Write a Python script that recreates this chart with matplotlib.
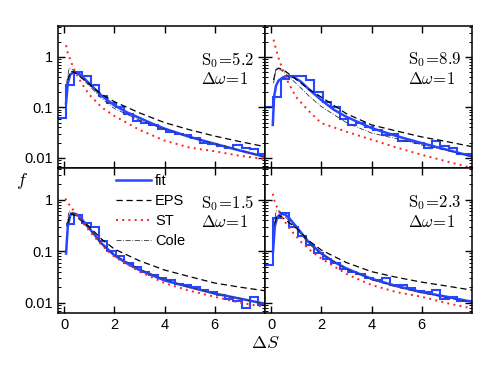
import numpy as np
import matplotlib
matplotlib.use("Agg")
import matplotlib.pyplot as plt
from matplotlib.ticker import LogLocator, NullFormatter, FixedLocator

plt.rcParams['font.family'] = ['Liberation Sans', 'DejaVu Sans']
plt.rcParams['mathtext.fontset'] = 'cm'

# ---------------- data ----------------
panel_S0 = ["5.2", "8.9", "1.5", "2.3"]
panel_dw = ["1", "1", "1", "1"]

bin_edges = [-0.24, 0.07, 0.40, 0.73, 1.07, 1.40, 1.73, 2.07, 2.40, 2.73, 3.07,
             3.40, 3.73, 4.07, 4.40, 4.73, 5.07, 5.40, 5.73, 6.07, 6.40, 6.73,
             7.07, 7.40, 7.73, 8.07]

hist_TL = [0.062, 0.28, 0.50, 0.42, 0.28, 0.17, 0.12, 0.10, 0.075, 0.055, 0.050,
           0.045, 0.038, 0.033, 0.030, 0.028, 0.025, 0.020, 0.019, 0.017, 0.016,
           0.018, 0.016, 0.015, 0.012]
hist_TR = [0.10, 0.16, 0.36, 0.42, 0.42, 0.35, 0.20, 0.13, 0.10, 0.060, 0.045,
           0.050, 0.040, 0.035, 0.028, 0.030, 0.022, 0.022, 0.020, 0.016, 0.022,
           0.017, 0.016, 0.012, 0.012]
hist_BL = [np.nan, 0.33, 0.50, 0.35, 0.30, 0.16, 0.10, 0.080, 0.060, 0.050, 0.040,
           0.035, 0.030, 0.027, 0.023, 0.022, 0.020, 0.018, 0.016, 0.014, 0.012,
           0.011, 0.008, 0.013, 0.009]
hist_BR = [0.053, 0.44, 0.54, 0.30, 0.20, 0.13, 0.090, 0.070, 0.060, 0.045, 0.040,
           0.036, 0.030, 0.028, 0.030, 0.022, 0.022, 0.019, 0.017, 0.016, 0.018,
           0.012, 0.013, 0.011, 0.011]

fit_x_TL = [0.08, 0.15, 0.25, 0.4, 0.55, 0.7, 1.0, 1.5, 2, 2.5, 3, 3.5, 4, 5, 6, 7, 8]
fit_TL = [0.12, 0.30, 0.45, 0.50, 0.48, 0.42, 0.30, 0.17, 0.11, 0.08, 0.062, 0.048,
          0.038, 0.026, 0.019, 0.014, 0.0105]
eps_x_TL = [0.15, 0.25, 0.4, 0.6, 1, 1.5, 2, 3, 4, 5, 6, 7, 8]
eps_TL = [0.35, 0.52, 0.5, 0.42, 0.29, 0.18, 0.13, 0.078, 0.05, 0.036, 0.027, 0.021, 0.0167]
st_x_TL = [0.08, 0.15, 0.3, 0.5, 0.7, 1.0, 1.5, 2, 3, 4, 5, 6, 7, 8]
st_TL = [1.7, 1.2, 0.75, 0.45, 0.3, 0.18, 0.1, 0.068, 0.036, 0.022, 0.016, 0.0135, 0.011, 0.0095]
cole_x_TL = [0.1, 0.2, 0.3, 0.5, 1, 1.5, 2, 3, 4, 5, 6, 7, 8]
cole_TL = [0.3, 0.6, 0.58, 0.48, 0.27, 0.15, 0.095, 0.056, 0.037, 0.026, 0.019, 0.014, 0.0105]

fit_x_TR = [0.07, 0.12, 0.2, 0.3, 0.5, 0.7, 0.9, 1.2, 1.5, 2, 2.5, 3, 4, 5, 6, 7, 8]
fit_TR = [0.045, 0.16, 0.27, 0.34, 0.40, 0.42, 0.40, 0.32, 0.23, 0.14, 0.09, 0.065,
          0.039, 0.027, 0.0196, 0.0145, 0.0107]
eps_x_TR = [0.1, 0.2, 0.3, 0.5, 1, 1.5, 2, 3, 4, 5, 6, 7, 8]
eps_TR = [0.35, 0.55, 0.6, 0.55, 0.36, 0.23, 0.16, 0.075, 0.045, 0.034, 0.026, 0.021, 0.0167]
st_x_TR = [0.1, 0.2, 0.3, 0.5, 0.7, 1.0, 1.5, 2, 3, 4, 5, 6, 7, 8]
st_TR = [2.2, 1.4, 0.95, 0.5, 0.3, 0.16, 0.085, 0.049, 0.033, 0.023, 0.016, 0.0115, 0.0085, 0.0063]
cole_x_TR = [0.1, 0.2, 0.3, 0.5, 1, 1.5, 2, 3, 4, 5, 6, 7, 8]
cole_TR = [0.3, 0.6, 0.6, 0.5, 0.3, 0.17, 0.104, 0.05, 0.031, 0.024, 0.018, 0.014, 0.0105]

fit_x_BL = [0.08, 0.15, 0.25, 0.4, 0.55, 0.7, 1, 1.5, 2, 2.5, 3, 4, 5, 6, 7, 8]
fit_BL = [0.09, 0.30, 0.50, 0.54, 0.50, 0.42, 0.28, 0.14, 0.083, 0.058, 0.043, 0.027,
          0.020, 0.015, 0.012, 0.0095]
eps_x_BL = [0.15, 0.25, 0.4, 0.6, 1, 1.5, 2, 3, 4, 5, 6, 7, 8]
eps_BL = [0.35, 0.55, 0.5, 0.42, 0.3, 0.17, 0.11, 0.065, 0.043, 0.032, 0.024, 0.020, 0.017]
st_x_BL = [0.05, 0.2, 0.4, 0.7, 1.0, 1.5, 2, 3, 4, 5, 6, 7, 8]
st_BL = [1.05, 0.8, 0.6, 0.38, 0.25, 0.13, 0.078, 0.04, 0.024, 0.017, 0.013, 0.010, 0.0082]
cole_x_BL = [0.1, 0.2, 0.3, 0.5, 1, 1.5, 2, 3, 4, 5, 6, 7, 8]
cole_BL = [0.3, 0.6, 0.58, 0.48, 0.27, 0.14, 0.085, 0.045, 0.028, 0.020, 0.015, 0.012, 0.0095]

fit_x_BR = [0.08, 0.15, 0.25, 0.4, 0.55, 0.7, 1, 1.5, 2, 2.5, 3, 4, 5, 6, 7, 8]
fit_BR = [0.10, 0.30, 0.46, 0.53, 0.52, 0.45, 0.30, 0.15, 0.09, 0.062, 0.046, 0.029,
          0.021, 0.016, 0.013, 0.0104]
eps_x_BR = [0.15, 0.25, 0.35, 0.5, 1, 1.5, 2, 3, 4, 5, 6, 7, 8]
eps_BR = [0.35, 0.5, 0.48, 0.43, 0.28, 0.16, 0.105, 0.06, 0.040, 0.031, 0.025, 0.021, 0.0175]
st_x_BR = [0.07, 0.15, 0.3, 0.5, 0.8, 1.2, 1.6, 2, 3, 4, 5, 6, 7, 8]
st_BR = [1.3, 0.9, 0.6, 0.4, 0.25, 0.15, 0.1, 0.072, 0.036, 0.022, 0.016, 0.013, 0.0098, 0.0077]
cole_x_BR = [0.12, 0.2, 0.3, 0.5, 1, 1.5, 2, 3, 4, 5, 6, 7, 8]
cole_BR = [0.3, 0.6, 0.62, 0.5, 0.28, 0.14, 0.087, 0.045, 0.028, 0.020, 0.0155, 0.0125, 0.010]

xticks = [0, 2, 4, 6]

panels = [
    (hist_TL, fit_x_TL, fit_TL, eps_x_TL, eps_TL, st_x_TL, st_TL, cole_x_TL, cole_TL),
    (hist_TR, fit_x_TR, fit_TR, eps_x_TR, eps_TR, st_x_TR, st_TR, cole_x_TR, cole_TR),
    (hist_BL, fit_x_BL, fit_BL, eps_x_BL, eps_BL, st_x_BL, st_BL, cole_x_BL, cole_BL),
    (hist_BR, fit_x_BR, fit_BR, eps_x_BR, eps_BR, st_x_BR, st_BR, cole_x_BR, cole_BR),
]

# ---------------- figure ----------------
W, H = 491, 369
fig = plt.figure(figsize=(W / 100, H / 100), dpi=100)

def rect(x0, x1, y0, y1):
    return [x0 / W, 1 - y1 / H, (x1 - x0) / W, (y1 - y0) / H]

rects = [rect(58, 265, 26, 168), rect(265, 472, 26, 168),
         rect(58, 265, 168, 313), rect(265, 472, 168, 313)]

blue = '#2846ff'
for i, (r, p) in enumerate(zip(rects, panels)):
    ax = fig.add_axes(r)
    hist, fx, fy, ex, ey, sx, sy, cx, cy = p
    ax.stairs(hist, bin_edges, color=blue, lw=1.5, baseline=None)
    l_fit, = ax.plot(fx, fy, color=blue, lw=1.8, label='fit')
    l_eps, = ax.plot(ex, ey, color='black', lw=0.9, ls=(0, (5, 3)), label='EPS')
    l_st, = ax.plot(sx, sy, color='#ff2020', lw=1.4, ls=(0, (1, 2.2)), label='ST')
    l_cole, = ax.plot(cx, cy, color='#333333', lw=0.6, ls=(0, (6, 2, 1, 2)), label='Cole')
    ax.set_yscale('log')
    ax.set_xlim(-0.24, 8.0)
    ax.set_ylim(0.0063, 4.1)
    ax.xaxis.set_major_locator(FixedLocator(xticks))
    ax.yaxis.set_major_locator(FixedLocator([0.01, 0.1, 1]))
    ax.yaxis.set_minor_locator(LogLocator(base=10, subs=np.arange(2, 10)))
    ax.yaxis.set_minor_formatter(NullFormatter())
    ax.tick_params(which='both', direction='in', top=True, right=True, labelsize=10.5)
    ax.tick_params(which='major', length=5, width=1)
    ax.tick_params(which='minor', length=2.5, width=0.7)
    for s in ax.spines.values():
        s.set_linewidth(1.1)
    if i in (0, 2):
        ax.set_yticklabels(['0.01', '0.1', '1'])
    else:
        ax.set_yticklabels([])
    if i in (2, 3):
        ax.set_xticklabels([str(t) for t in xticks])
    else:
        ax.set_xticklabels([])
    ax.text(0.69, 0.76, r'$\mathrm{S}_0\!=\!' + panel_S0[i] + '$', transform=ax.transAxes,
            fontsize=12, va='center', ha='left')
    ax.text(0.69, 0.63, r'$\Delta\omega\!=\!' + panel_dw[i] + '$', transform=ax.transAxes,
            fontsize=12, va='center', ha='left')
    if i == 2:
        ax.legend(handles=[l_fit, l_eps, l_st, l_cole], loc='upper left',
                  bbox_to_anchor=(0.25, 1.0), frameon=False, fontsize=10.5,
                  handlelength=2.4, handletextpad=0.3, labelspacing=0.42,
                  borderaxespad=0)

fig.text(22 / W, 1 - 181 / H, r'$f$', fontsize=13, ha='center', va='center')
fig.text(265 / W, 1 - 343 / H, r'$\Delta S$', fontsize=13, ha='center', va='center')

fig.savefig('out.png', dpi=100)
